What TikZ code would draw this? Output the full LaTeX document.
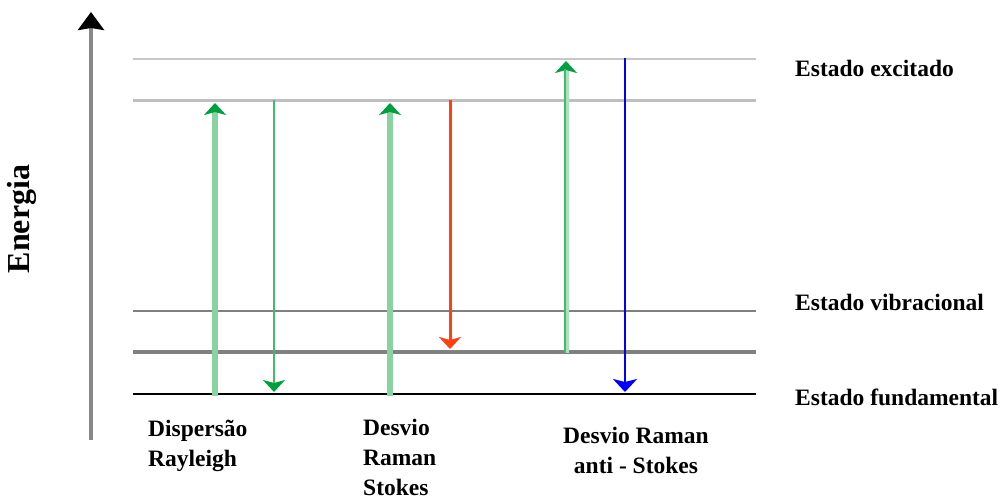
\documentclass[tikz,border=0pt]{standalone}
\usepackage{fontspec}
\setmainfont{Liberation Serif}
\usetikzlibrary{arrows.meta}
\definecolor{lgreen}{HTML}{88D4A0}
\definecolor{mgreen}{HTML}{44BB66}
\definecolor{dgreen}{HTML}{00A040}
\definecolor{redarr}{HTML}{FF4010}
\definecolor{axisgray}{HTML}{888888}
\tikzset{
  lbl/.style={font=\bfseries\fontsize{23.5}{30}\selectfont, inner sep=0pt},
  uphead/.style={-{Stealth[length=12pt,width=22pt,inset=3pt,color=dgreen]}},
  downhead/.style={-{Stealth[length=12pt,width=22pt,inset=3pt]}},
}
\begin{document}
\begin{tikzpicture}[x=1pt,y=-1pt]
\useasboundingbox (0,0) rectangle (1003,500);
% axis
\coordinate (axb) at (91,440);
\coordinate (axt) at (91,12);
\draw[axisgray, line width=4pt, -{Stealth[length=18pt,width=26pt,inset=2pt,color=black]}] (axb) -- (axt);
\node[lbl, font=\bfseries\fontsize{32}{36}\selectfont, rotate=90] (energia) at (22,219) {Energia};
% levels
\coordinate (e2L) at (133,59);  \coordinate (e2R) at (756,59);
\coordinate (e1L) at (133,101); \coordinate (e1R) at (756,101);
\coordinate (v2L) at (133,311); \coordinate (v2R) at (756,311);
\coordinate (v1L) at (133,352); \coordinate (v1R) at (756,352);
\coordinate (g0L) at (133,394); \coordinate (g0R) at (756,394);
\draw[black!22, line width=2.5pt] (e2L) -- (e2R);
\draw[black!25, line width=3pt] (e1L) -- (e1R);
\draw[black!50, line width=2pt] (v2L) -- (v2R);
\draw[black!50, line width=4pt] (v1L) -- (v1R);
\draw[black, line width=2pt] (g0L) -- (g0R);
% transition end points
\coordinate (r1a) at (215,396); \coordinate (r1b) at (215,103);
\coordinate (r2a) at (274,100); \coordinate (r2b) at (274,392);
\coordinate (s1a) at (390,396); \coordinate (s1b) at (390,103);
\coordinate (s2a) at (450,100); \coordinate (s2b) at (450,349);
\coordinate (a1a) at (566,353); \coordinate (a1b) at (566,61);
\coordinate (a2a) at (625,58);  \coordinate (a2b) at (625,392);
% arrows
\draw[lgreen, line width=5.5pt, uphead] (r1a) -- (r1b);
\draw[mgreen, line width=2.5pt, -{Stealth[length=12pt,width=22pt,inset=3pt,color=dgreen]}] (r2a) -- (r2b);
\draw[lgreen, line width=5.5pt, uphead] (s1a) -- (s1b);
\draw[redarr, line width=3pt, downhead] (s2a) -- (s2b);
\draw[lgreen!70, line width=5pt, uphead] (a1a) -- (a1b);
\draw[mgreen, line width=2pt, shorten >=8pt] ([xshift=-1pt]a1a) -- ([xshift=-1pt]a1b);
\draw[blue, line width=2.5pt, -{Stealth[length=13pt,width=24pt,inset=3pt]}] (a2a) -- (a2b);
% right labels
\node[lbl, anchor=base west] (exc) at (795,77) {Estado excitado};
\node[lbl, anchor=base west] (vib) at (795,310) {Estado vibracional};
\node[lbl, anchor=base west] (fund) at (795,405) {Estado fundamental};
% bottom labels (base = baseline of last line)
\node[lbl, anchor=base west, align=left] (ray) at (148,466) {Dispersão\\Rayleigh};
\node[lbl, anchor=base west, align=left] (sto) at (363,495) {Desvio\\Raman\\Stokes};
\node[lbl, anchor=base, align=center] (ast) at (636,473) {Desvio Raman\\anti - Stokes};
\end{tikzpicture}
\end{document}
